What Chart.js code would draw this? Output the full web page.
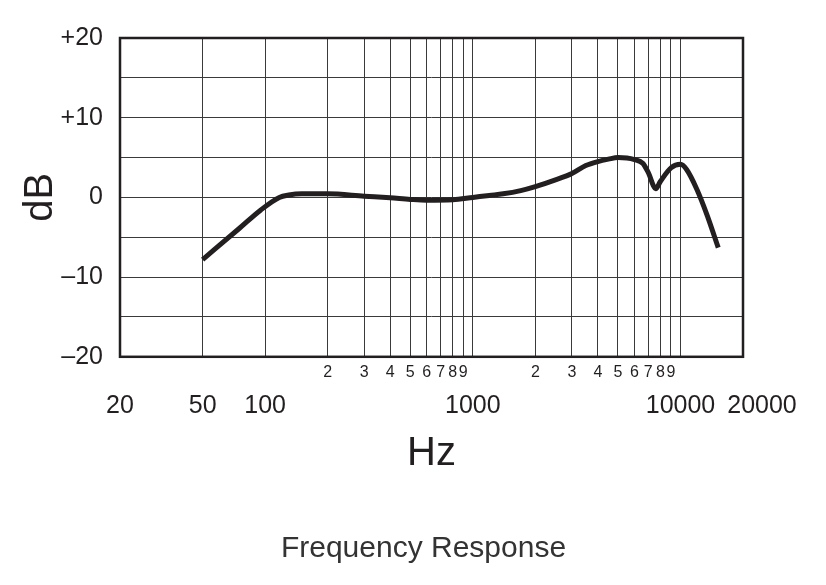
<!DOCTYPE html>
<html>
<head>
<meta charset="utf-8">
<script src="https://cdn.jsdelivr.net/npm/chart.js@4/dist/chart.umd.min.js"></script>
<style>
    html, body { margin: 0; padding: 0; background: #fff; }
    #wrap { width: 826px; height: 585px; }
</style>
</head>
<body>
<div id="wrap"><canvas id="myChart" width="826" height="585"></canvas></div>
<script>
// Dane
var freqs = [50, 75, 95, 117, 130, 150, 200, 300, 400, 500, 600, 800, 1000, 1200, 1400, 1700, 2000, 2500, 3000, 3500, 4000, 4500, 5000, 6000, 6600, 7000, 7600, 8000, 9000, 10000, 10700, 12000, 13400, 15200];
var dbValues = [-7.8, -3.9, -1.6, 0, 0.3, 0.45, 0.45, 0.15, -0.05, -0.25, -0.35, -0.3, 0, 0.25, 0.45, 0.85, 1.35, 2.2, 3.0, 4.0, 4.5, 4.8, 5.0, 4.75, 4.25, 3.1, 1.1, 2.0, 3.7, 4.15, 3.5, 1.0, -2.15, -6.3];

// Linie siatki i opisy osi
var gridFreqs = [50, 100, 200, 300, 400, 500, 600, 700, 800, 900, 1000, 2000, 3000, 4000, 5000, 6000, 7000, 8000, 9000, 10000];
var decadeLabels = [20, 50, 100, 1000, 10000, 20000];
var dbTicks = [-20, -15, -10, -5, 0, 5, 10, 15, 20];

var ink = '#231f20';
Chart.defaults.font.family = '"Liberation Sans", Arial, sans-serif';
Chart.defaults.color = ink;

// Opis małych cyfr pod osią (2..9 w każdej dekadzie)
function minorLabel(value) {
    var digit = value / Math.pow(10, Math.floor(Math.log10(value)));
    if (digit < 2 || value === 50) {
        return '';
    }
    return String(Math.round(digit));
}

function dbLabel(value) {
    if (value % 10 !== 0) return '';
    if (value > 0) return '+' + value;
    if (value < 0) return '\u2013' + Math.abs(value);
    return '0';
}

// Ramka wokół obszaru wykresu
var framePlugin = {
    id: 'frame',
    afterDraw: function (chart) {
        var a = chart.chartArea;
        var ctx = chart.ctx;
        ctx.save();
        ctx.strokeStyle = ink;
        ctx.lineWidth = 2.5;
        ctx.strokeRect(a.left, a.top, a.right - a.left, a.bottom - a.top);
        ctx.restore();
    }
};

// Duże opisy dekad pod małymi cyframi
var decadePlugin = {
    id: 'decades',
    afterDraw: function (chart) {
        var ctx = chart.ctx;
        var scale = chart.scales.x;
        var y = chart.chartArea.bottom + 49;
        var prevRight = -Infinity;
        ctx.save();
        ctx.font = '25px "Liberation Sans", Arial, sans-serif';
        ctx.fillStyle = ink;
        ctx.textAlign = 'center';
        ctx.textBaseline = 'middle';
        decadeLabels.forEach(function (v) {
            var text = String(v);
            var w = ctx.measureText(text).width;
            var cx = scale.getPixelForValue(v);
            if (cx - w / 2 < prevRight + 12) {
                cx = prevRight + 12 + w / 2;
            }
            ctx.fillText(text, cx, y);
            prevRight = cx + w / 2;
        });
        ctx.restore();
    }
};

var ctx = document.getElementById('myChart').getContext('2d');

var chart = new Chart(ctx, {
    type: 'line',
    data: {
        datasets: [{
            data: freqs.map(function (f, i) { return { x: f, y: dbValues[i] }; }),
            borderColor: ink,
            borderWidth: 5,
            borderCapStyle: 'butt',
            pointRadius: 0,
            cubicInterpolationMode: 'monotone',
            fill: false
        }]
    },
    options: {
        responsive: false,
        animation: false,
        layout: {
            padding: { left: 21, top: 38, right: 0, bottom: 10 }
        },
        plugins: {
            legend: { display: false },
            tooltip: { enabled: false },
            title: {
                display: true,
                position: 'bottom',
                text: 'Frequency Response',
                color: '#333',
                font: { size: 30, weight: 'normal', lineHeight: 1.2 },
                padding: { top: 57, bottom: 8 }
            }
        },
        scales: {
            x: {
                type: 'logarithmic',
                min: 20,
                max: 20000,
                afterBuildTicks: function (axis) {
                    axis.ticks = gridFreqs.map(function (v) { return { value: v }; });
                },
                grid: { color: '#3a3a3a', lineWidth: 1, drawTicks: false },
                border: { display: false },
                ticks: {
                    autoSkip: false,
                    maxRotation: 0,
                    minRotation: 0,
                    padding: 6,
                    font: { size: 16 },
                    callback: function (value) { return minorLabel(value); }
                },
                title: {
                    display: true,
                    text: 'Hz',
                    font: { size: 40, lineHeight: 1 },
                    padding: { top: 46, bottom: 0 }
                }
            },
            y: {
                min: -20,
                max: 20,
                afterBuildTicks: function (axis) {
                    axis.ticks = dbTicks.map(function (v) { return { value: v }; });
                },
                afterFit: function (axis) {
                    axis.width = 99;
                },
                grid: { color: '#3a3a3a', lineWidth: 1, drawTicks: false },
                border: { display: false },
                ticks: {
                    autoSkip: false,
                    padding: 17,
                    font: { size: 25 },
                    callback: function (value) { return dbLabel(value); }
                },
                title: {
                    display: true,
                    text: 'dB',
                    font: { size: 40, lineHeight: 1 },
                    padding: 0
                }
            },
            // pusta oś po prawej, tylko żeby zostawić miejsce na "20000"
            y2: {
                position: 'right',
                min: -20,
                max: 20,
                afterFit: function (axis) {
                    axis.width = 83;
                },
                grid: { display: false },
                border: { display: false },
                ticks: { display: false }
            }
        }
    },
    plugins: [framePlugin, decadePlugin]
});
</script>
</body>
</html>
